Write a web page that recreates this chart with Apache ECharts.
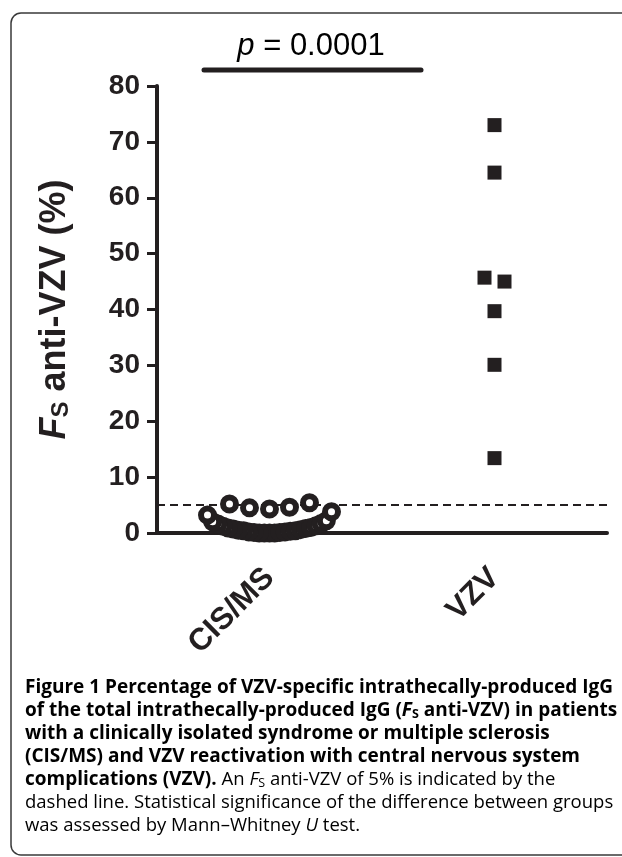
<!DOCTYPE html>
<html><head><meta charset="utf-8">
<script src="https://cdn.jsdelivr.net/npm/echarts@6/dist/echarts.min.js"></script>
<style>html,body{margin:0;padding:0;background:#fff}#c{width:622px;height:857px}</style>
</head><body><div id="c"></div>
<script>
// ---- data ----
const categories = ['CIS/MS', 'VZV'];
const cisValues = [0, 0, 0, 0, 0.1, 0.1, 0.2, 0.2, 0.3, 0.4, 0.4, 0.5, 0.6, 0.7, 0.8, 0.9, 1.0, 1.2, 1.3, 1.6, 1.7, 2.0, 2.2, 3.2, 3.8, 4.3, 4.5, 4.6, 5.2, 5.4];
const vzvValues = [73.0, 64.5, 45.7, 45.0, 39.7, 30.1, 13.4];
const yMin = 0, yMax = 80, yStep = 10;
const cutoff = 5;
const pValueText = '0.0001';

const ink = '#231f20';
const chart = echarts.init(document.getElementById('c'), null, {renderer: 'canvas'});

function swarm(values, catIndex, pxPerUnit, binSize, gap, maxWidth) {
  const bins = {};
  values.forEach(v => { const b = Math.floor(v / binSize); (bins[b] = bins[b] || []).push(v); });
  const out = [];
  Object.keys(bins).forEach(key => {
    const arr = bins[key].slice().sort((a, b) => a - b);
    const n = arr.length;
    const step = n > 1 ? Math.min(gap, maxWidth / (n - 1)) : 0;
    arr.forEach((v, i) => {
      const k = Math.ceil(i / 2);
      const side = i === 0 ? 0 : (i % 2 === 1 ? -1 : 1);
      let dx = side * k * step;
      if (n % 2 === 0) dx += step / 2;
      out.push([catIndex + dx / pxPerUnit, v]);
    });
  });
  return out;
}

const grid = {left: 157, right: 15, top: 86, bottom: 324, containLabel: false};

const capB = {fontFamily: 'Open Sans', fontWeight: 'bold', fontSize: 19, color: ink};
const capBI = Object.assign({}, capB, {fontStyle: 'italic'});
const capBS = {fontFamily: 'Open Sans', fontWeight: 'bold', fontSize: 12.5, color: ink, verticalAlign: 'bottom', lineHeight: 16};
const capR = {fontFamily: 'Open Sans', fontWeight: 'normal', fontSize: 18.5, color: '#3a3a3a'};
const capRI = Object.assign({}, capR, {fontStyle: 'italic'});
const capRS = {fontFamily: 'Open Sans', fontWeight: 'normal', fontSize: 12.5, color: '#3a3a3a', verticalAlign: 'bottom', lineHeight: 16};
const capRich = {b: capB, bi: capBI, bs: capBS, r: capR, ri: capRI, rs: capRS};

const captionLines = [
  '{b|Figure 1 Percentage of VZV-specific intrathecally-produced IgG}',
  '{b|of the total intrathecally-produced IgG (}{bi|F}{bs|S}{b| anti-VZV) in patients}',
  '{b|with a clinically isolated syndrome or multiple sclerosis}',
  '{b|(CIS/MS) and VZV reactivation with central nervous system}',
  '{b|complications (VZV).}{r| An }{ri|F}{rs|S}{r| anti-VZV of 5% is indicated by the}',
  '{r|dashed line. Statistical significance of the difference between groups}',
  '{r|was assessed by Mann\u2013Whitney }{ri|U}{r| test.}'
];
const captionY0 = 688, captionStep = 23;

const graphics = [
  {type: 'rect', shape: {x: 11, y: 13, width: 700, height: 842, r: 10}, style: {fill: 'none', stroke: '#3a3a3a', lineWidth: 1.5}, silent: true},
  {type: 'line', shape: {x1: 204, y1: 70, x2: 421, y2: 70}, style: {stroke: ink, lineWidth: 5, lineCap: 'round'}},
  {type: 'text', x: 311, y: 46, style: {
    text: '{i|p}{n| = ' + pValueText + '}', align: 'center', verticalAlign: 'middle',
    rich: {i: {fontFamily: 'Liberation Sans', fontStyle: 'italic', fontSize: 31, color: ink},
           n: {fontFamily: 'Liberation Sans', fontSize: 31, color: ink}}}}
];
captionLines.forEach((t, i) => graphics.push({type: 'text', x: 25, y: captionY0 + i * captionStep,
  style: {text: t, rich: capRich, align: 'left', verticalAlign: 'middle'}}));

const baseOption = {
  animation: false,
  backgroundColor: '#fff',
  grid: grid,
  xAxis: [
    {type: 'category', data: categories, boundaryGap: true,
     axisLine: {onZero: false, lineStyle: {color: ink, width: 4}},
     axisTick: {alignWithLabel: true, length: 14, lineStyle: {color: ink, width: 3}},
     axisLabel: {rotate: 45, margin: 40, fontFamily: 'Liberation Sans', fontWeight: 'bold', fontSize: 31, color: ink},
     splitLine: {show: false}},
    {type: 'value', min: -0.5, max: 1.5, show: false, splitLine: {show: false}}
  ],
  yAxis: {type: 'value', min: yMin, max: yMax, interval: yStep,
    axisLine: {show: true, onZero: false, lineStyle: {color: ink, width: 4}},
    axisTick: {show: true, length: 10, lineStyle: {color: ink, width: 3}},
    axisLabel: {margin: 17, fontFamily: 'Liberation Sans', fontWeight: 'bold', fontSize: 28, color: ink},
    splitLine: {show: false},
    name: '{fi|F}{fs|S}{fn| anti-VZV (%)}', nameLocation: 'middle', nameGap: 84, nameRotate: 90,
    nameTextStyle: {rich: {
      fi: {fontFamily: 'Liberation Sans', fontWeight: 'bold', fontStyle: 'italic', fontSize: 36, color: ink},
      fs: {fontFamily: 'Liberation Sans', fontWeight: 'bold', fontSize: 24, color: ink, verticalAlign: 'bottom', lineHeight: 28},
      fn: {fontFamily: 'Liberation Sans', fontWeight: 'bold', fontSize: 36, color: ink}}}},
  graphic: graphics,
  series: []
};
chart.setOption(baseOption);

const pxPerUnit = chart.convertToPixel({xAxisIndex: 1}, 1) - chart.convertToPixel({xAxisIndex: 1}, 0);
const cisData = swarm(cisValues, 0, pxPerUnit, 4, 20, 124);
const vzvData = swarm(vzvValues, 1, pxPerUnit, 4, 20, 124);

chart.setOption({series: [
  {type: 'scatter', name: categories[0], xAxisIndex: 1, yAxisIndex: 0, data: cisData, clip: false,
   symbol: 'circle', symbolSize: 13, z: 5,
   itemStyle: {color: '#fff', borderColor: ink, borderWidth: 6, opacity: 1},
   markLine: {silent: true, symbol: 'none', label: {show: false},
     lineStyle: {color: ink, width: 2, type: [8, 5]}, data: [{yAxis: cutoff}]}},
  {type: 'scatter', name: categories[1], xAxisIndex: 1, yAxisIndex: 0, data: vzvData, clip: false,
   symbol: 'rect', symbolSize: 14, z: 5, itemStyle: {color: ink, opacity: 1}}
]});
</script></body></html>
